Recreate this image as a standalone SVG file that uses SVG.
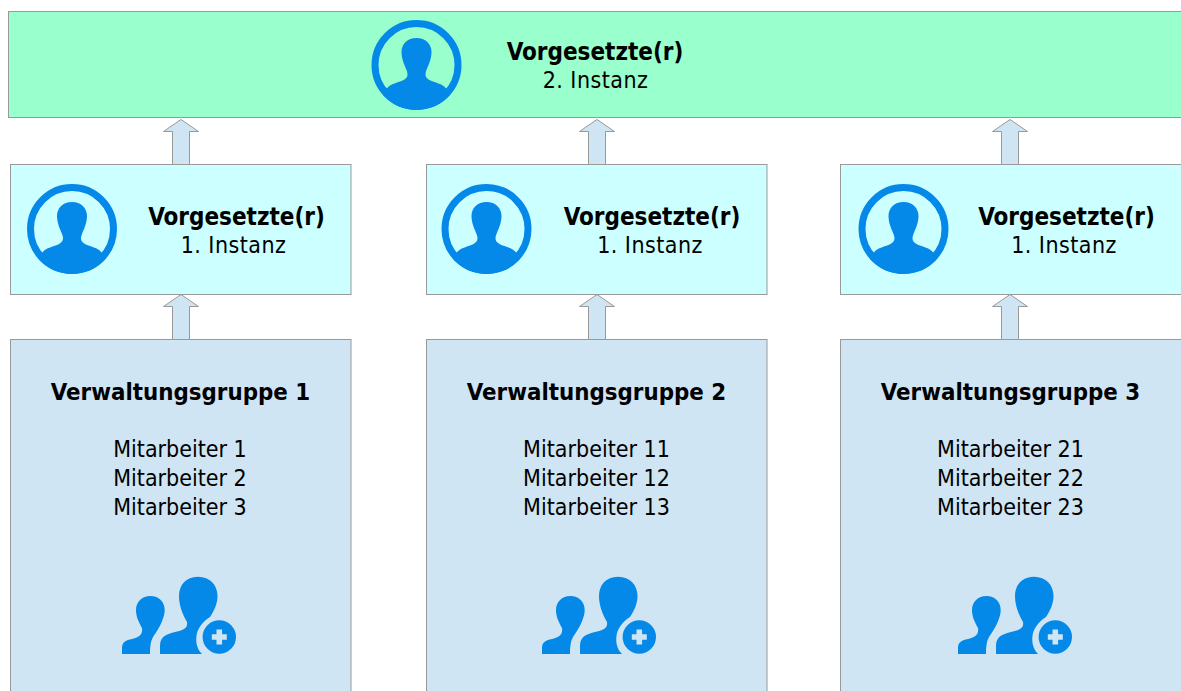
<svg xmlns="http://www.w3.org/2000/svg" width="1181" height="691" viewBox="0 0 1181 691">
<style>
text{font-family:"DejaVu Sans Condensed","DejaVu Sans","Noto Sans",sans-serif;font-size:23px;fill:#000;text-anchor:middle}
.b{font-weight:700;font-size:24px}
.g{font-size:23.800px}
.i{letter-spacing:.45px}
.box{stroke:#999;stroke-width:1}
.top{fill:#99ffcc}.mid{fill:#ccffff}.low{fill:#cfe5f4}
.ar{fill:#cfe5f4;stroke:#999;stroke-width:1}
.ic{fill:#0489e8}
</style>
<defs>
<clipPath id="c"><circle r="45"/></clipPath>
<g id="avatar">
<circle r="41.500" fill="none" stroke="#0489e8" stroke-width="7"/>
<path class="ic" clip-path="url(#c)" d="M0-27C9-27 15-21 15-13C15-6 12 0 10 5C8 10 9 13 13 15C18 18 26 18 30 24L45 45H-45L-30 24C-26 18-18 18-13 15C-9 13-8 10-10 5C-12 0-15-6-15-13C-15-21-9-27 0-27Z"/>
</g>
<path id="arrow" class="ar" d="M0 0L17.500 12H8.500V45H-8.500V12H-17.500Z"/>
<g id="people">
<path class="ic" d="M150.300 596C159 596 164.700 602 164.700 610C164.700 617 160 627 155 634C152 638 150 642 150 654H122V648C122 642 126 640 132 639C140 637 143 634 142 628C138 621 136 616 136 610C136 602 142 596 150.300 596Z"/>
<path class="ic" d="M198 576.700C210 576.700 217.500 585 217.500 596C217.500 604 214 611 210 617C205 620 199 626 197 633C195 642 197 649 202 654H160V646C160 636 167 634 175 632C184 630 188 628 187 622C182 613 179 605 179 596C179 585 186 576.700 198 576.700Z"/>
<circle class="ic" cx="219.300" cy="637" r="16.700"/>
<path fill="#cfe5f4" d="M216.500 629.500h5.600v4.700h4.700v5.600h-4.700v4.700h-5.600v-4.700h-4.700v-5.600h4.700Z"/>
</g>
</defs>
<g id="connectors">
<use href="#arrow" x="181" y="119.500"/><use href="#arrow" x="597" y="119.500"/><use href="#arrow" x="1010" y="119.500"/>
<use href="#arrow" x="181" y="294.500"/><use href="#arrow" x="597" y="294.500"/><use href="#arrow" x="1010" y="294.500"/>
</g>
<g id="top-node">
<rect class="box top" x="8.500" y="11.500" width="1173" height="106"/>
<use href="#avatar" x="416.500" y="65"/>
<text class="b" x="595" y="60">Vorgesetzte(r)</text>
<text class="i" x="595.500" y="88">2. Instanz</text>
</g>
<g id="lead-1">
<rect class="box mid" x="10.500" y="164.500" width="340.500" height="130"/>
<use href="#avatar" x="72" y="229"/>
<text class="b" x="236.500" y="225">Vorgesetzte(r)</text>
<text class="i" x="233.500" y="253">1. Instanz</text>
</g>
<g id="lead-2">
<rect class="box mid" x="426.500" y="164.500" width="340.500" height="130"/>
<use href="#avatar" x="486.500" y="229"/>
<text class="b" x="652" y="225">Vorgesetzte(r)</text>
<text class="i" x="650" y="253">1. Instanz</text>
</g>
<g id="lead-3">
<rect class="box mid" x="840.500" y="164.500" width="341" height="130"/>
<use href="#avatar" x="903.500" y="229"/>
<text class="b" x="1066.500" y="225">Vorgesetzte(r)</text>
<text class="i" x="1064" y="253">1. Instanz</text>
</g>
<g id="group-1">
<rect class="box low" x="10.500" y="339.500" width="340.500" height="360"/>
<text class="b g" x="180.500" y="400">Verwaltungsgruppe 1</text>
<text x="180" y="457">Mitarbeiter 1</text><text x="180" y="486">Mitarbeiter 2</text><text x="180" y="515">Mitarbeiter 3</text>
<use href="#people"/>
</g>
<g id="group-2">
<rect class="box low" x="426.500" y="339.500" width="340.500" height="360"/>
<text class="b g" x="596.500" y="400">Verwaltungsgruppe 2</text>
<text x="596.500" y="457">Mitarbeiter 11</text><text x="596.500" y="486">Mitarbeiter 12</text><text x="596.500" y="515">Mitarbeiter 13</text>
<use href="#people" x="420"/>
</g>
<g id="group-3">
<rect class="box low" x="840.500" y="339.500" width="341" height="360"/>
<text class="b g" x="1010.500" y="400">Verwaltungsgruppe 3</text>
<text x="1010.500" y="457">Mitarbeiter 21</text><text x="1010.500" y="486">Mitarbeiter 22</text><text x="1010.500" y="515">Mitarbeiter 23</text>
<use href="#people" x="836"/>
</g>
</svg>
